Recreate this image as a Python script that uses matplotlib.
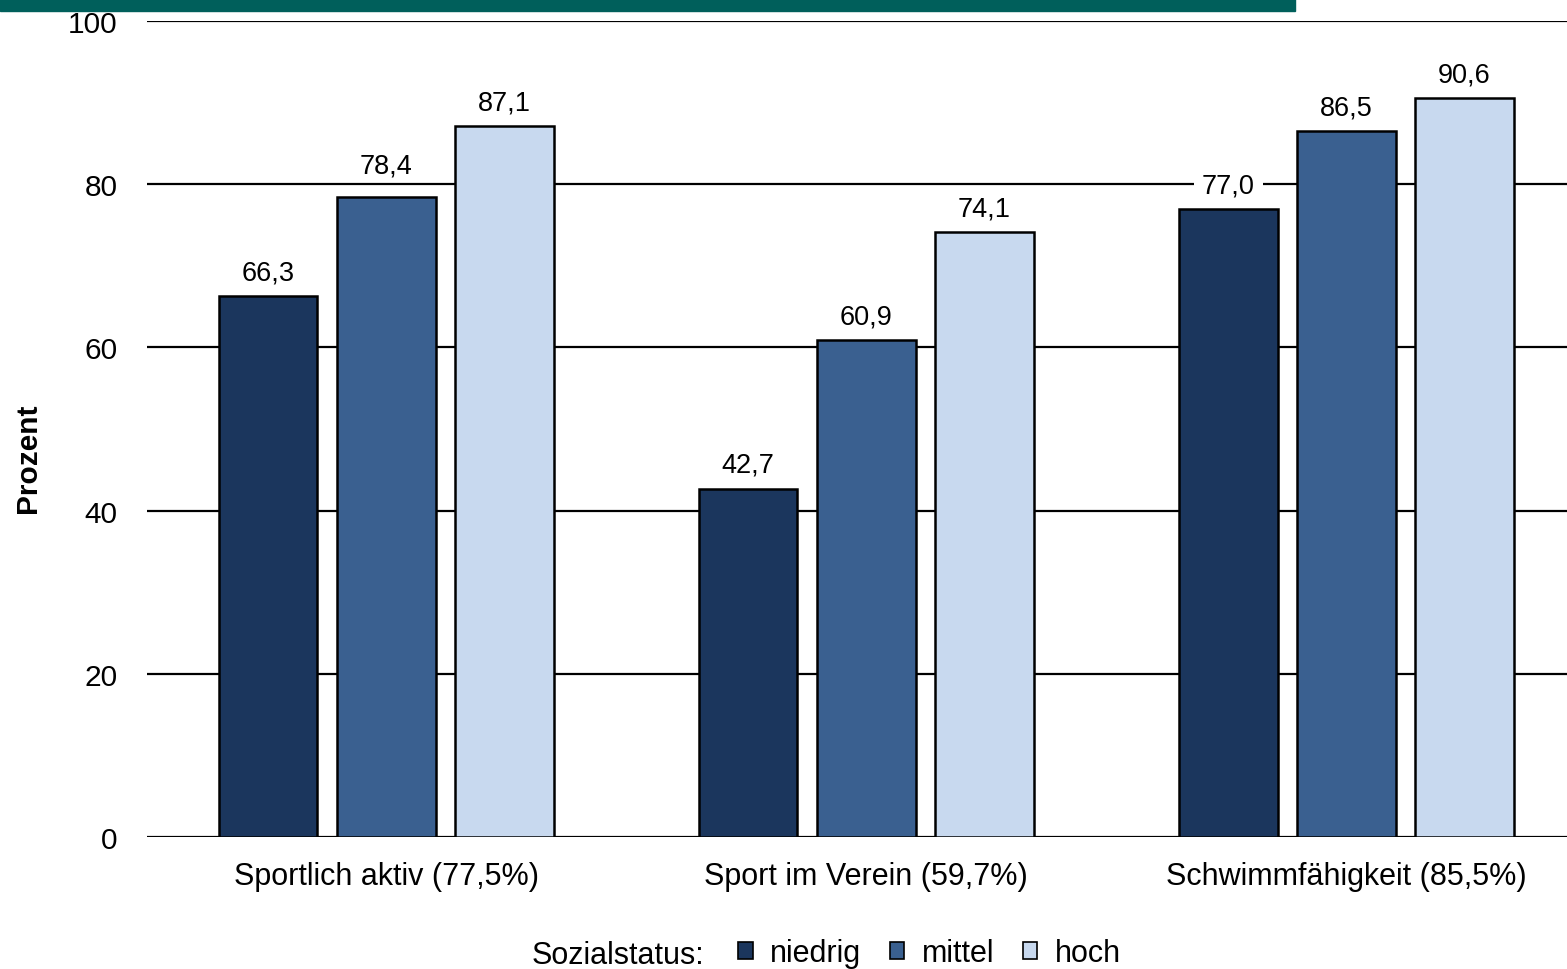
import matplotlib.pyplot as plt
from matplotlib.patches import Patch, Rectangle
import numpy as np

plt.rcParams['font.family'] = ['Liberation Sans', 'DejaVu Sans']

kategorien = ["Sportlich aktiv (77,5%)", "Sport im Verein (59,7%)", "Schwimmfähigkeit (85,5%)"]
niedrig = [66.3, 42.7, 77.0]
mittel = [78.4, 60.9, 86.5]
hoch = [87.1, 74.1, 90.6]
gruppen = ["niedrig", "mittel", "hoch"]
farben = ["#1b365d", "#3a6090", "#c8d9ef"]
y_ticks = [0, 20, 40, 60, 80, 100]

fig = plt.figure(figsize=(15.67, 9.70), dpi=100)
ax = fig.add_axes([147 / 1567, 132 / 970, 1 - 147 / 1567, 816 / 970])

x = np.arange(len(kategorien))
breite = 0.206
schritt = 0.246

for i, (werte, name, farbe) in enumerate(zip([niedrig, mittel, hoch], gruppen, farben)):
  pos = x + (i - 1) * schritt
  ax.bar(pos, werte, width=breite, color=farbe, edgecolor="black", linewidth=1.8, zorder=3)
  for j, (xp, v) in enumerate(zip(pos, werte)):
    # diese Beschriftung sitzt ueber der Gitterlinie, ohne sie zu verdecken
    ueber_linie = (i, j) == (1, 0)
    box = None if ueber_linie else dict(boxstyle="square,pad=0.3", fc="white", ec="none")
    ax.annotate(f"{v:.1f}".replace(".", ","), (xp, v), xytext=(0, 23 if ueber_linie else 17),
                textcoords="offset points", ha="center", va="center", fontsize=19.5, zorder=4,
                bbox=box)

ax.set_xlim(-0.498, 2.46)
ax.set_ylim(0, 100)
ax.set_yticks(y_ticks)
ax.set_yticklabels([str(t) for t in y_ticks], fontsize=21.5)
ax.set_xticks(x)
ax.set_xticklabels(kategorien, fontsize=22)
ax.tick_params(axis="y", length=0, pad=21)
ax.tick_params(axis="x", length=0, pad=17)
ax.yaxis.grid(True, color="black", linewidth=1.6, zorder=0)
ax.set_axisbelow(True)
for s in ax.spines.values():
  s.set_visible(False)

fig.text(28 / 1567, 1 - 458 / 970, "Prozent", rotation=90, fontsize=21.5, fontweight="bold",
         ha="center", va="center")

# Balken oben
fig.patches.append(Rectangle((0, 1 - 12 / 970), 1295 / 1567, 12 / 970, transform=fig.transFigure,
                             color="#005f5b", zorder=0))

# Legende unten
fig.text(532 / 1567, 14 / 970, "Sozialstatus:", fontsize=22, ha="left", va="center")
handles = [Patch(facecolor=f, edgecolor="black", linewidth=1.2) for f in farben]
fig.legend(handles, gruppen, loc="center left", bbox_to_anchor=(738 / 1567, 16 / 970), ncol=3,
           frameon=False, fontsize=22, handlelength=0.48, handleheight=0.48, handletextpad=0.58,
           columnspacing=0.92, borderpad=0, borderaxespad=0)

fig.savefig("out.png", dpi=100)
